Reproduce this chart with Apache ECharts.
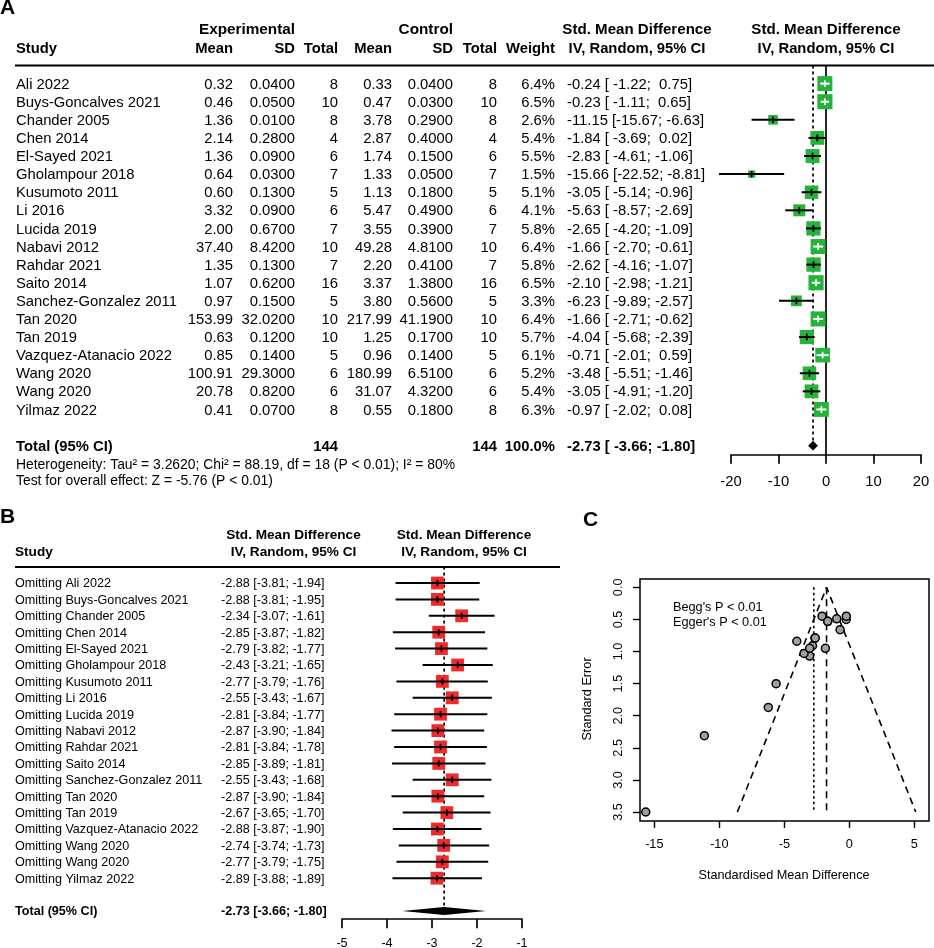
<!DOCTYPE html>
<html><head><meta charset="utf-8">
<script src="https://cdn.jsdelivr.net/npm/echarts@6/dist/echarts.min.js"></script>
<style>html,body{margin:0;padding:0;background:#fff}#c{width:934px;height:948px}</style>
</head><body><div id="c"></div>
<script>
// ---------- Panel A data ----------
const studies = ['Ali 2022','Buys-Goncalves 2021','Chander 2005','Chen 2014','El-Sayed 2021','Gholampour 2018','Kusumoto 2011','Li 2016','Lucida 2019','Nabavi 2012','Rahdar 2021','Saito 2014','Sanchez-Gonzalez 2011','Tan 2020','Tan 2019','Vazquez-Atanacio 2022','Wang 2020','Wang 2020','Yilmaz 2022'];
const expMean = ['0.32','0.46','1.36','2.14','1.36','0.64','0.60','3.32','2.00','37.40','1.35','1.07','0.97','153.99','0.63','0.85','100.91','20.78','0.41'];
const expSD = ['0.0400','0.0500','0.0100','0.2800','0.0900','0.0300','0.1300','0.0900','0.6700','8.4200','0.1300','0.6200','0.1500','32.0200','0.1200','0.1400','29.3000','0.8200','0.0700'];
const expN = [8,10,8,4,6,7,5,6,7,10,7,16,5,10,10,5,6,6,8];
const ctlMean = ['0.33','0.47','3.78','2.87','1.74','1.33','1.13','5.47','3.55','49.28','2.20','3.37','3.80','217.99','1.25','0.96','180.99','31.07','0.55'];
const ctlSD = ['0.0400','0.0300','0.2900','0.4000','0.1500','0.0500','0.1800','0.4900','0.3900','4.8100','0.4100','1.3800','0.5600','41.1900','0.1700','0.1400','6.5100','4.3200','0.1800'];
const ctlN = [8,10,8,4,6,7,5,6,7,10,7,16,5,10,10,5,6,6,8];
const weight = [6.4,6.5,2.6,5.4,5.5,1.5,5.1,4.1,5.8,6.4,5.8,6.5,3.3,6.4,5.7,6.1,5.2,5.4,6.3];
const smd = [-0.24,-0.23,-11.15,-1.84,-2.83,-15.66,-3.05,-5.63,-2.65,-1.66,-2.62,-2.10,-6.23,-1.66,-4.04,-0.71,-3.48,-3.05,-0.97];
const smdLower = [-1.22,-1.11,-15.67,-3.69,-4.61,-22.52,-5.14,-8.57,-4.20,-2.70,-4.16,-2.98,-9.89,-2.71,-5.68,-2.01,-5.51,-4.91,-2.02];
const smdUpper = [0.75,0.65,-6.63,0.02,-1.06,-8.81,-0.96,-2.69,-1.09,-0.61,-1.07,-1.21,-2.57,-0.62,-2.39,0.59,-1.46,-1.20,0.08];
const pooled = [-2.73,-3.66,-1.80];           // estimate, lower, upper
const totalsA = ['Total (95% CI)','144','144','100.0%'];
const ticksA = [-20,-10,0,10,20];

// ---------- Panel B data ----------
const looEst = [-2.88,-2.88,-2.34,-2.85,-2.79,-2.43,-2.77,-2.55,-2.81,-2.87,-2.81,-2.85,-2.55,-2.87,-2.67,-2.88,-2.74,-2.77,-2.89];
const looLower = [-3.81,-3.81,-3.07,-3.87,-3.82,-3.21,-3.79,-3.43,-3.84,-3.90,-3.84,-3.89,-3.43,-3.90,-3.65,-3.87,-3.74,-3.79,-3.88];
const looUpper = [-1.94,-1.95,-1.61,-1.82,-1.77,-1.65,-1.76,-1.67,-1.77,-1.84,-1.78,-1.81,-1.68,-1.84,-1.70,-1.90,-1.73,-1.75,-1.89];

// ---------- Panel C data ----------
const funnelSMD = [-0.24,-0.23,-11.15,-1.84,-2.83,-15.66,-3.05,-5.63,-2.65,-1.66,-2.62,-2.10,-6.23,-1.66,-4.04,-0.71,-3.48,-3.05,-0.97];
const funnelSE = [0.50,0.45,2.31,0.95,0.91,3.50,1.07,1.50,0.79,0.53,0.79,0.45,1.87,0.53,0.84,0.66,1.03,0.95,0.49];
const funnelX = [-8.61,-1.75,5.11];   // left bottom, apex, right bottom
const funnelY = [0,3.5];
const randomEst = -2.73;
const ticksCX = [-15,-10,-5,0,5];
const ticksCY = [0,0.5,1,1.5,2,2.5,3,3.5];

// ---------- helpers ----------
const FF = '"Liberation Sans", Arial, Helvetica, sans-serif';
const GREEN = '#25B33B', RED = '#F02B2B';
const f2 = v => v.toFixed(2);
const pad = (s, n) => ' '.repeat(Math.max(0, n - s.length)) + s;
const ciA = smd.map((e,i) => f2(e) + ' [' + pad(f2(smdLower[i]),6) + '; ' + pad(f2(smdUpper[i]),5) + ']');
const ciATotal = f2(pooled[0]) + ' [' + pad(f2(pooled[1]),6) + '; ' + pad(f2(pooled[2]),5) + ']';
const ciB = looEst.map((e,i) => f2(e) + ' [' + f2(looLower[i]) + '; ' + f2(looUpper[i]) + ']');
const ciBTotal = f2(pooled[0]) + ' [' + f2(pooled[1]) + '; ' + f2(pooled[2]) + ']';

function textCol(ax, colX, texts, align, size, bold, rows) {
  return {
    type:'custom', xAxisIndex:ax, yAxisIndex:ax, clip:false, silent:true, z:5,
    data: texts.map((t,i) => [colX, rows ? rows[i] : i]),
    renderItem: (params, api) => {
      const p = api.coord([api.value(0), api.value(1)]);
      return {type:'text', x:p[0], y:p[1]+1, style:{text:String(texts[params.dataIndex]), fill:'#000',
        fontSize:size, fontFamily:FF, fontWeight: bold ? 'bold' : 'normal', align:align, verticalAlign:'middle'}};
    }
  };
}
function T(x, y, text, size, bold, align, extra) {
  return Object.assign({type:'text', x:x, y:y, silent:true, z:10, style:{text:text, fill:'#000', fontSize:size,
    fontFamily:FF, fontWeight: bold ? 'bold' : 'normal', align: align || 'left', verticalAlign:'middle'}}, extra || {});
}
function L(x1, y1, x2, y2, w) {
  return {type:'line', silent:true, z:10, shape:{x1:x1,y1:y1,x2:x2,y2:y2}, style:{stroke:'#000', lineWidth:w||2}};
}

const fa = 14.8, fb = 12.6, fbh = 13.6, fc = 12.7;
const series = [];

// Panel A table
series.push(textCol(0, 16, studies, 'left', fa));
series.push(textCol(0, 233, expMean, 'right', fa));
series.push(textCol(0, 295, expSD, 'right', fa));
series.push(textCol(0, 338, expN, 'right', fa));
series.push(textCol(0, 392, ctlMean, 'right', fa));
series.push(textCol(0, 453, ctlSD, 'right', fa));
series.push(textCol(0, 497, ctlN, 'right', fa));
series.push(textCol(0, 555, weight.map(w => w.toFixed(1) + '%'), 'right', fa));
series.push(textCol(0, 567, ciA, 'left', fa));
series.push(textCol(0, 16, [totalsA[0]], 'left', fa, true, [20]));
series.push(textCol(0, 338, [totalsA[1]], 'right', fa, true, [20]));
series.push(textCol(0, 497, [totalsA[2]], 'right', fa, true, [20]));
series.push(textCol(0, 555, [totalsA[3]], 'right', fa, true, [20]));
series.push(textCol(0, 567, [ciATotal], 'left', fa, true, [20]));

// Panel A forest: reference lines
series.push({
  type:'custom', xAxisIndex:1, yAxisIndex:1, clip:false, silent:true, z:2,
  data:[[0, -1, 20.5, 0], [pooled[0], -1, 20, 1]],
  renderItem:(params, api) => {
    const a = api.coord([api.value(0), api.value(1)]);
    const b = api.coord([api.value(0), api.value(2)]);
    const dotted = api.value(3) === 1;
    return {type:'line', shape:{x1:a[0], y1:a[1], x2:b[0], y2:b[1] - (dotted ? 4.5 : 0)},
      style:{stroke:'#000', lineWidth: dotted ? 1.7 : 1.7, lineDash: dotted ? [3,3] : null}};
  }
});
// Panel A forest: squares and CIs
series.push({
  type:'custom', xAxisIndex:1, yAxisIndex:1, clip:false, silent:true, z:3,
  data: smd.map((e,i) => [e, i, smdLower[i], smdUpper[i], weight[i]]),
  renderItem:(params, api) => {
    const c = api.coord([api.value(0), api.value(1)]);
    const l = api.coord([api.value(2), api.value(1)]);
    const u = api.coord([api.value(3), api.value(1)]);
    const side = 5.93 * Math.sqrt(api.value(4));
    const col = (u[0] - l[0]) < side ? '#fff' : '#000';
    return {type:'group', children:[
      {type:'rect', shape:{x:c[0]-side/2, y:c[1]-side/2, width:side, height:side}, style:{fill:GREEN}},
      {type:'line', shape:{x1:l[0], y1:c[1], x2:u[0], y2:c[1]}, style:{stroke:col, lineWidth:2}},
      {type:'line', shape:{x1:c[0], y1:c[1]-3.4, x2:c[0], y2:c[1]+3.4}, style:{stroke:col, lineWidth:1.7}}
    ]};
  }
});
// Panel A diamond
series.push({
  type:'custom', xAxisIndex:1, yAxisIndex:1, clip:false, silent:true, z:3,
  data:[[pooled[0], 20, pooled[1], pooled[2]]],
  renderItem:(params, api) => {
    const c = api.coord([api.value(0), api.value(1)]);
    const l = api.coord([api.value(2), api.value(1)]);
    const u = api.coord([api.value(3), api.value(1)]);
    return {type:'polygon', shape:{points:[[l[0]-0.5,c[1]],[c[0],c[1]-4.8],[u[0]+0.5,c[1]],[c[0],c[1]+4.8]]}, style:{fill:'#000'}};
  }
});

// Panel B table
series.push(textCol(2, 15, studies.map(s => 'Omitting ' + s), 'left', fb));
series.push(textCol(2, 221, ciB, 'left', fb));
series.push(textCol(2, 15, ['Total (95% CI)'], 'left', fb, true, [20]));
series.push(textCol(2, 221, [ciBTotal], 'left', fb, true, [20]));

// Panel B forest
series.push({
  type:'custom', xAxisIndex:3, yAxisIndex:3, clip:false, silent:true, z:2,
  data:[[pooled[0], -1, 20]],
  renderItem:(params, api) => {
    const a = api.coord([api.value(0), api.value(1)]);
    const b = api.coord([api.value(0), api.value(2)]);
    return {type:'line', shape:{x1:a[0], y1:a[1], x2:b[0], y2:b[1]-4}, style:{stroke:'#000', lineWidth:1.7, lineDash:[3,3]}};
  }
});
series.push({
  type:'custom', xAxisIndex:3, yAxisIndex:3, clip:false, silent:true, z:3,
  data: looEst.map((e,i) => [e, i, looLower[i], looUpper[i]]),
  renderItem:(params, api) => {
    const c = api.coord([api.value(0), api.value(1)]);
    const l = api.coord([api.value(2), api.value(1)]);
    const u = api.coord([api.value(3), api.value(1)]);
    const side = 12.8;
    return {type:'group', children:[
      {type:'rect', shape:{x:c[0]-side/2, y:c[1]-side/2, width:side, height:side}, style:{fill:RED}},
      {type:'line', shape:{x1:l[0], y1:c[1], x2:u[0], y2:c[1]}, style:{stroke:'#000', lineWidth:2}},
      {type:'line', shape:{x1:c[0], y1:c[1]-3.2, x2:c[0], y2:c[1]+3.2}, style:{stroke:'#000', lineWidth:1.7}}
    ]};
  }
});
series.push({
  type:'custom', xAxisIndex:3, yAxisIndex:3, clip:false, silent:true, z:3,
  data:[[pooled[0], 20, pooled[1], pooled[2]]],
  renderItem:(params, api) => {
    const c = api.coord([api.value(0), api.value(1)]);
    const l = api.coord([api.value(2), api.value(1)]);
    const u = api.coord([api.value(3), api.value(1)]);
    return {type:'polygon', shape:{points:[[l[0],c[1]],[c[0],c[1]-4],[u[0],c[1]],[c[0],c[1]+4]]}, style:{fill:'#000'}};
  }
});

// Panel C funnel
const lineBase = {type:'line', xAxisIndex:4, yAxisIndex:4, symbol:'none', showSymbol:false, silent:true, z:2};
series.push(Object.assign({}, lineBase, {data:[[funnelX[0],funnelY[1]],[funnelX[1],funnelY[0]],[funnelX[2],funnelY[1]]],
  lineStyle:{color:'#000', width:1.6, type:[7,5]}}));
series.push(Object.assign({}, lineBase, {data:[[funnelX[1],funnelY[0]],[funnelX[1],funnelY[1]]],
  lineStyle:{color:'#000', width:1.6, type:[7,5]}}));
series.push(Object.assign({}, lineBase, {data:[[randomEst,funnelY[0]],[randomEst,funnelY[1]]],
  lineStyle:{color:'#000', width:1.6, type:[2.5,3]}}));
series.push({type:'scatter', xAxisIndex:4, yAxisIndex:4, silent:true, z:4, symbolSize:8,
  data: funnelSMD.map((x,i) => [x, funnelSE[i]]),
  itemStyle:{color:'#a0a0a0', borderColor:'#000', borderWidth:1.5, opacity:1}});

const hx = (g, min, max) => ({gridIndex:g, type:'value', min:min, max:max, show:false});
const hy = (g, min, max) => ({gridIndex:g, type:'value', min:min, max:max, inverse:true, show:false});
const axLine = {show:true, onZero:false, lineStyle:{color:'#000', width:1.7}};

const option = {
  animation:false,
  backgroundColor:'#fff',
  grid:[
    {left:0, top:65.5, width:934, height:389.2, containLabel:false, outerBoundsMode:'none'},
    {left:731, top:65.5, width:190, height:389.2, containLabel:false, outerBoundsMode:'none'},
    {left:0, top:566.6, width:934, height:352.6, containLabel:false, outerBoundsMode:'none'},
    {left:342, top:566.6, width:180, height:352.6, containLabel:false, outerBoundsMode:'none'},
    {left:640, top:579, width:289, height:242, show:true, borderColor:'#000', borderWidth:1.5,
      backgroundColor:'transparent', containLabel:false, outerBoundsMode:'none'}
  ],
  xAxis:[
    hx(0, 0, 934),
    {gridIndex:1, type:'value', min:ticksA[0], max:ticksA[ticksA.length-1], interval:10, position:'bottom',
      axisLine:axLine, axisTick:{show:true, length:9, inside:false, lineStyle:{color:'#000', width:1.7}},
      axisLabel:{color:'#000', fontSize:fa, fontFamily:FF, margin:20}, splitLine:{show:false}},
    hx(2, 0, 934),
    {gridIndex:3, type:'value', min:-5, max:-1, interval:1, position:'bottom',
      axisLine:axLine, axisTick:{show:true, length:9, inside:false, lineStyle:{color:'#000', width:1.7}},
      axisLabel:{color:'#000', fontSize:fb, fontFamily:FF, margin:17.5}, splitLine:{show:false}},
    {gridIndex:4, type:'value', min:-16.1, max:6.13, position:'bottom',
      axisLine:{show:false, onZero:false},
      axisTick:{show:true, length:7, inside:false, customValues:ticksCX, lineStyle:{color:'#000', width:1.4}},
      axisLabel:{color:'#000', fontSize:fc, fontFamily:FF, margin:16.5, customValues:ticksCX}, splitLine:{show:false}}
  ],
  yAxis:[
    hy(0, -1, 20.5), hy(1, -1, 20.5), hy(2, -1, 20.5), hy(3, -1, 20.5),
    {gridIndex:4, type:'value', min:-0.13, max:3.64, inverse:true, position:'left',
      axisLine:{show:false, onZero:false},
      axisTick:{show:true, length:7, inside:false, customValues:ticksCY, lineStyle:{color:'#000', width:1.4}},
      axisLabel:{color:'#000', fontSize:fc, fontFamily:FF, margin:15.5, rotate:90, customValues:ticksCY,
        formatter: v => Number(v).toFixed(1)}, splitLine:{show:false}}
  ],
  graphic:[
    // Panel letters
    T(0, 8.5, 'A', 21, true),
    T(0, 517.5, 'B', 21, true),
    T(583, 520.5, 'C', 21, true),
    // Panel A headers
    T(295, 30, 'Experimental', 15.3, true, 'right'),
    T(453, 30, 'Control', 15.3, true, 'right'),
    T(637, 30, 'Std. Mean Difference', 15.1, true, 'center'),
    T(826, 30, 'Std. Mean Difference', 15.1, true, 'center'),
    T(16, 48.5, 'Study', fa, true),
    T(233, 48.5, 'Mean', fa, true, 'right'),
    T(295, 48.5, 'SD', fa, true, 'right'),
    T(338, 48.5, 'Total', fa, true, 'right'),
    T(392, 48.5, 'Mean', fa, true, 'right'),
    T(453, 48.5, 'SD', fa, true, 'right'),
    T(497, 48.5, 'Total', fa, true, 'right'),
    T(555, 48.5, 'Weight', fa, true, 'right'),
    T(637, 48.5, 'IV, Random, 95% CI', fa, true, 'center'),
    T(826, 48.5, 'IV, Random, 95% CI', fa, true, 'center'),
    L(15, 65.5, 934, 65.5, 2),
    T(16, 465.5, 'Heterogeneity: Tau\u00b2 = 3.2620; Chi\u00b2 = 88.19, df = 18 (P < 0.01); I\u00b2 = 80%', 13.9),
    T(16, 481, 'Test for overall effect: Z = -5.76 (P < 0.01)', 13.9),
    // Panel B headers
    T(293.5, 535, 'Std. Mean Difference', fbh, true, 'center'),
    T(464, 535, 'Std. Mean Difference', fbh, true, 'center'),
    T(15, 552, 'Study', fbh, true),
    T(293.5, 552, 'IV, Random, 95% CI', fbh, true, 'center'),
    T(464, 552, 'IV, Random, 95% CI', fbh, true, 'center'),
    L(15, 567, 560, 567, 2),
    // Panel C texts
    T(673, 607, "Begg's P < 0.01", fc),
    T(673, 622, "Egger's P < 0.01", fc),
    T(587, 699, 'Standard Error', fc, false, 'center', {rotation: Math.PI/2}),
    T(784, 875, 'Standardised Mean Difference', fc, false, 'center')
  ],
  series: series
};
const chart = echarts.init(document.getElementById('c'), null, {renderer:'canvas', width:934, height:948});
chart.setOption(option);
</script>
</body></html>
